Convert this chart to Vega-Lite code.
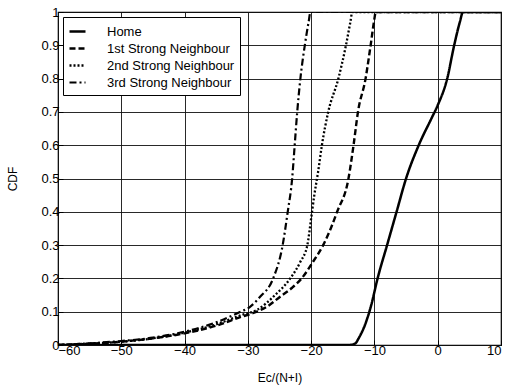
{
  "$schema": "https://vega.github.io/schema/vega-lite/v6.json",
  "width": 443,
  "height": 333,
  "autosize": {"type": "none"},
  "padding": {"left": 58, "top": 12, "right": 10, "bottom": 45},
  "background": "white",
  "config": {
    "font": "Liberation Sans",
    "view": {"stroke": "black", "strokeWidth": 1.2},
    "axis": {
      "gridColor": "#111",
      "gridOpacity": 1,
      "gridWidth": 0.9,
      "domain": false,
      "tickColor": "black",
      "tickSize": -5,
      "labelColor": "black",
      "labelFontSize": 13,
      "titleColor": "black",
      "titleFontSize": 12,
      "titleFontWeight": "normal"
    }
  },
  "data": {
    "values": [
      {"s": "Home", "x": -60, "y": 0},
      {"s": "Home", "x": -14, "y": 0},
      {"s": "Home", "x": -13, "y": 0.005},
      {"s": "Home", "x": -12.5, "y": 0.02},
      {"s": "Home", "x": -11.5, "y": 0.06},
      {"s": "Home", "x": -10.5, "y": 0.12},
      {"s": "Home", "x": -9.5, "y": 0.2},
      {"s": "Home", "x": -8, "y": 0.3},
      {"s": "Home", "x": -6.5, "y": 0.4},
      {"s": "Home", "x": -5, "y": 0.5},
      {"s": "Home", "x": -3, "y": 0.6},
      {"s": "Home", "x": -1, "y": 0.68},
      {"s": "Home", "x": 0, "y": 0.72},
      {"s": "Home", "x": 1.5, "y": 0.8},
      {"s": "Home", "x": 2.6, "y": 0.9},
      {"s": "Home", "x": 3.5, "y": 0.97},
      {"s": "Home", "x": 4, "y": 1},
      {"s": "Home", "x": 10, "y": 1},
      {"s": "1st Strong Neighbour", "x": -60, "y": 0},
      {"s": "1st Strong Neighbour", "x": -55, "y": 0.004},
      {"s": "1st Strong Neighbour", "x": -50, "y": 0.01},
      {"s": "1st Strong Neighbour", "x": -45, "y": 0.02},
      {"s": "1st Strong Neighbour", "x": -40, "y": 0.035},
      {"s": "1st Strong Neighbour", "x": -35, "y": 0.058},
      {"s": "1st Strong Neighbour", "x": -31, "y": 0.085},
      {"s": "1st Strong Neighbour", "x": -29, "y": 0.097},
      {"s": "1st Strong Neighbour", "x": -27, "y": 0.115},
      {"s": "1st Strong Neighbour", "x": -24.9, "y": 0.145},
      {"s": "1st Strong Neighbour", "x": -23, "y": 0.172},
      {"s": "1st Strong Neighbour", "x": -21.5, "y": 0.2},
      {"s": "1st Strong Neighbour", "x": -19.7, "y": 0.25},
      {"s": "1st Strong Neighbour", "x": -18.1, "y": 0.3},
      {"s": "1st Strong Neighbour", "x": -16.9, "y": 0.35},
      {"s": "1st Strong Neighbour", "x": -15.9, "y": 0.4},
      {"s": "1st Strong Neighbour", "x": -14.1, "y": 0.5},
      {"s": "1st Strong Neighbour", "x": -13.3, "y": 0.6},
      {"s": "1st Strong Neighbour", "x": -12.6, "y": 0.7},
      {"s": "1st Strong Neighbour", "x": -11.4, "y": 0.8},
      {"s": "1st Strong Neighbour", "x": -10.6, "y": 0.9},
      {"s": "1st Strong Neighbour", "x": -10, "y": 0.98},
      {"s": "1st Strong Neighbour", "x": -9.8, "y": 1},
      {"s": "1st Strong Neighbour", "x": 10, "y": 1},
      {"s": "2nd Strong Neighbour", "x": -60, "y": 0},
      {"s": "2nd Strong Neighbour", "x": -55, "y": 0.004},
      {"s": "2nd Strong Neighbour", "x": -50, "y": 0.01},
      {"s": "2nd Strong Neighbour", "x": -45, "y": 0.02},
      {"s": "2nd Strong Neighbour", "x": -40, "y": 0.037},
      {"s": "2nd Strong Neighbour", "x": -35, "y": 0.062},
      {"s": "2nd Strong Neighbour", "x": -31, "y": 0.09},
      {"s": "2nd Strong Neighbour", "x": -28.6, "y": 0.105},
      {"s": "2nd Strong Neighbour", "x": -25.7, "y": 0.15},
      {"s": "2nd Strong Neighbour", "x": -23.3, "y": 0.2},
      {"s": "2nd Strong Neighbour", "x": -21.7, "y": 0.25},
      {"s": "2nd Strong Neighbour", "x": -20.6, "y": 0.3},
      {"s": "2nd Strong Neighbour", "x": -20, "y": 0.38},
      {"s": "2nd Strong Neighbour", "x": -19.5, "y": 0.45},
      {"s": "2nd Strong Neighbour", "x": -18.9, "y": 0.52},
      {"s": "2nd Strong Neighbour", "x": -18.3, "y": 0.6},
      {"s": "2nd Strong Neighbour", "x": -17.3, "y": 0.7},
      {"s": "2nd Strong Neighbour", "x": -15.7, "y": 0.8},
      {"s": "2nd Strong Neighbour", "x": -14.5, "y": 0.9},
      {"s": "2nd Strong Neighbour", "x": -13.8, "y": 0.97},
      {"s": "2nd Strong Neighbour", "x": -13.5, "y": 1},
      {"s": "2nd Strong Neighbour", "x": 10, "y": 1},
      {"s": "3rd Strong Neighbour", "x": -60, "y": 0},
      {"s": "3rd Strong Neighbour", "x": -55, "y": 0.005},
      {"s": "3rd Strong Neighbour", "x": -50, "y": 0.012},
      {"s": "3rd Strong Neighbour", "x": -45, "y": 0.022},
      {"s": "3rd Strong Neighbour", "x": -40, "y": 0.04},
      {"s": "3rd Strong Neighbour", "x": -35, "y": 0.068},
      {"s": "3rd Strong Neighbour", "x": -31.5, "y": 0.097},
      {"s": "3rd Strong Neighbour", "x": -29.7, "y": 0.114},
      {"s": "3rd Strong Neighbour", "x": -28.1, "y": 0.144},
      {"s": "3rd Strong Neighbour", "x": -26, "y": 0.2},
      {"s": "3rd Strong Neighbour", "x": -24.5, "y": 0.3},
      {"s": "3rd Strong Neighbour", "x": -23.7, "y": 0.4},
      {"s": "3rd Strong Neighbour", "x": -23, "y": 0.5},
      {"s": "3rd Strong Neighbour", "x": -22.6, "y": 0.6},
      {"s": "3rd Strong Neighbour", "x": -22.2, "y": 0.7},
      {"s": "3rd Strong Neighbour", "x": -21.7, "y": 0.8},
      {"s": "3rd Strong Neighbour", "x": -21, "y": 0.9},
      {"s": "3rd Strong Neighbour", "x": -20.4, "y": 0.97},
      {"s": "3rd Strong Neighbour", "x": -20.1, "y": 1},
      {"s": "3rd Strong Neighbour", "x": 10, "y": 1}
    ]
  },
  "mark": {"type": "line", "color": "black", "clip": true, "interpolate": "monotone"},
  "encoding": {
    "x": {
      "field": "x", "type": "quantitative",
      "scale": {"domain": [-60, 10], "nice": false, "zero": false},
      "axis": {"values": [-60, -50, -40, -30, -20, -10, 0, 10], "title": "Ec/(N+I)", "labelPadding": 4, "titlePadding": 15}
    },
    "y": {
      "field": "y", "type": "quantitative",
      "scale": {"domain": [0, 1], "nice": false},
      "axis": {"values": [0, 0.1, 0.2, 0.3, 0.4, 0.5, 0.6, 0.7, 0.8, 0.9, 1], "format": ".1~f", "title": "CDF", "labelPadding": 4, "titlePadding": 21}
    },
    "strokeDash": {
      "field": "s", "type": "nominal",
      "scale": {
        "domain": ["Home", "1st Strong Neighbour", "2nd Strong Neighbour", "3rd Strong Neighbour"],
        "range": [[1, 0], [6, 3], [2, 2], [7, 3, 2, 3]]
      },
      "legend": {
        "title": null,
        "orient": "none",
        "legendX": 5,
        "legendY": 5,
        "symbolType": "stroke",
        "symbolSize": 256,
        "symbolStrokeColor": "black",
        "symbolStrokeWidth": 2,
        "labelFontSize": 13,
        "labelColor": "black",
        "labelOffset": 20,
        "rowPadding": 0,
        "strokeColor": "black",
        "fillColor": "white",
        "padding": 5,
        "cornerRadius": 0
      }
    },
    "strokeWidth": {
      "field": "s", "type": "nominal",
      "scale": {
        "domain": ["Home", "1st Strong Neighbour", "2nd Strong Neighbour", "3rd Strong Neighbour"],
        "range": [2.5, 2.2, 2, 2.2]
      },
      "legend": null
    }
  }
}
